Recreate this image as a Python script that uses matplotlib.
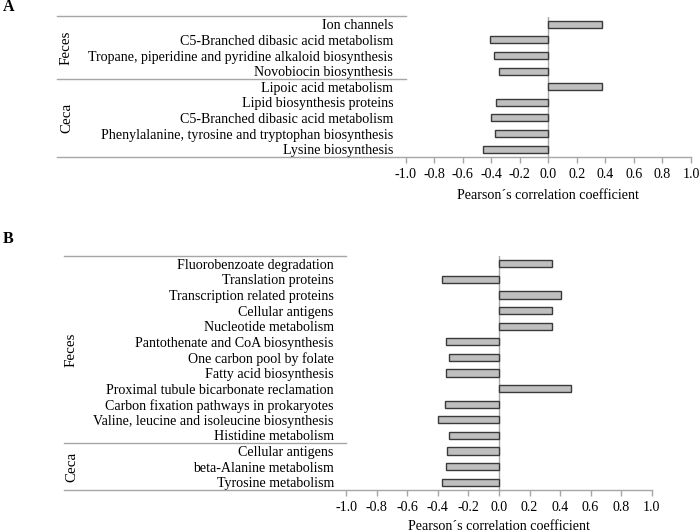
import matplotlib
matplotlib.use("Agg")
import matplotlib.pyplot as plt
import numpy as np

plt.rcParams['font.family'] = ['Liberation Serif', 'DejaVu Serif']

# Panel A
labels_a = ["Ion channels",
            "C5-Branched dibasic acid metabolism",
            "Tropane, piperidine and pyridine alkaloid biosynthesis",
            "Novobiocin biosynthesis",
            "Lipoic acid metabolism",
            "Lipid biosynthesis proteins",
            "C5-Branched dibasic acid metabolism",
            "Phenylalanine, tyrosine and tryptophan biosynthesis",
            "Lysine biosynthesis"]
values_a = [0.378, -0.406, -0.378, -0.348, 0.374, -0.367, -0.40, -0.371, -0.455]
groups_a = [("Feces", 4), ("Ceca", 5)]

# Panel B
labels_b = ["Fluorobenzoate degradation",
            "Translation proteins",
            "Transcription related proteins",
            "Cellular antigens",
            "Nucleotide metabolism",
            "Pantothenate and CoA biosynthesis",
            "One carbon pool by folate",
            "Fatty acid biosynthesis",
            "Proximal tubule bicarbonate reclamation",
            "Carbon fixation pathways in prokaryotes",
            "Valine, leucine and isoleucine biosynthesis",
            "Histidine metabolism",
            "Cellular antigens",
            "beta-Alanine metabolism",
            "Tyrosine metabolism"]
values_b = [0.349, -0.373, 0.406, 0.349, 0.347, -0.349, -0.325, -0.345, 0.474,
            -0.354, -0.397, -0.325, -0.34, -0.345, -0.371]
groups_b = [("Feces", 12), ("Ceca", 3)]

xticks = np.round(np.arange(-1.0, 1.01, 0.2), 1)
xticklabels = ["%.1f" % (0.0 if abs(t) < 1e-9 else t) for t in xticks]

W, H = 700, 532
LINE = "#a6a6a6"
FS = 10.1


def panel(fig, px_left, px_right, px_top, px_bottom, px_line_left, px_group_x,
          labels, values, groups, letter, letter_y, xlabel_pad):
    ax = fig.add_axes([px_left / W, 1 - px_bottom / H,
                       (px_right - px_left) / W, (px_bottom - px_top) / H])
    n = len(labels)
    y = np.arange(n)
    ax.barh(y, values, height=0.45, color="#bfbfbf", edgecolor="#3a3a3a",
            linewidth=1.0, zorder=3)
    ax.set_ylim(n - 0.5, -0.5)
    ax.set_xlim(-1.0, 1.0)
    ax.axvline(0, color=LINE, lw=1.0, zorder=2)
    ax.set_yticks(y)
    ax.set_yticklabels(labels, fontsize=FS)
    ax.tick_params(axis='y', length=0, pad=9.0)
    ax.set_xticks(xticks)
    ax.set_xticklabels(xticklabels, fontsize=FS)
    ax.tick_params(axis='x', length=4, color=LINE, width=1.0, pad=4)
    for s in ["top", "right", "left", "bottom"]:
        ax.spines[s].set_visible(False)
    ax.set_xlabel("Pearson´s correlation coefficient", fontsize=FS,
                  labelpad=xlabel_pad)

    width = px_right - px_left
    x0 = (px_line_left - px_left) / width
    tr = ax.get_yaxis_transform()
    # bottom axis line runs under the label area too
    ax.plot([x0, 1.0], [n - 0.5, n - 0.5], transform=tr, color=LINE,
            lw=1.0, clip_on=False)
    ax.plot([x0, 0.0], [-0.5, -0.5], transform=tr, color=LINE, lw=1.0, clip_on=False)
    gx = (px_group_x - px_left) / width
    start = 0
    for name, count in groups:
        end = start + count
        if end < n:
            ax.plot([x0, 0.0], [end - 0.5, end - 0.5], transform=tr,
                    color=LINE, lw=1.0, clip_on=False)
        ax.text(gx, (start + end - 1) / 2, name, transform=tr, rotation=90,
                ha="center", va="center", fontsize=10.8)
        start = end
    fig.text(3 / W, 1 - letter_y / H, letter, fontsize=11.5, fontweight="bold",
             ha="left", va="center")
    return ax


fig = plt.figure(figsize=(7, 5.32), dpi=100)
panel(fig, 405.7, 691.0, 16.5, 157.0, 57.0, 66.5, labels_a, values_a, groups_a,
      "A", 7, 6)
panel(fig, 346.3, 651.7, 256.0, 490.0, 64.0, 71.5, labels_b, values_b, groups_b,
      "B", 239, 4)

fig.savefig("out.png", dpi=100)
